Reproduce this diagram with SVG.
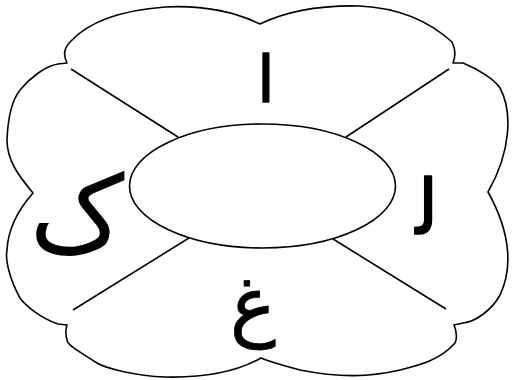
<svg xmlns="http://www.w3.org/2000/svg" width="513" height="380" viewBox="0 0 513 380">
<style>
.o{fill:#fff;stroke:#000;stroke-width:1.6;stroke-linejoin:round}
.l{fill:none;stroke:#000;stroke-width:1.6}
.t{font-family:"DejaVu Sans",sans-serif;fill:#000;text-anchor:middle;stroke:#000;stroke-width:1.4;stroke-linejoin:round}
</style>
<rect width="513" height="380" fill="#fff"/>
<g id="flower">
<path class="o" d="M 67,63 C 63,55 64,48 70,42 C 90,20 125,10 165,7 C 205,5 235,12 260,24 C 285,12 320,5 360,6 C 400,8 430,22 452,42 C 456,50 455,58 453,63 L 463,63 C 480,70 495,80 500,88 C 512,110 512,150 488,192 C 512,235 512,270 500,295 C 492,310 475,322 463,323 L 454,325 C 457,332 457,340 455,343 C 440,360 420,365 400,370 C 370,377 340,378 300,370 C 285,366 270,362 261,358 C 240,370 210,378 165,377 C 135,376 105,368 97,363 C 80,352 67,345 67,340 C 65,333 66,328 67,325 L 58,324 C 40,318 25,305 20,298 C 10,280 5,260 7,250 C 8,230 18,210 33,193 C 18,175 7,160 7,140 C 8,115 12,100 20,90 C 30,78 45,66 58,64 Z"/>
</g>
<g id="connectors">
<line class="l" x1="71" y1="69" x2="178" y2="137"/>
<line class="l" x1="449" y1="69" x2="346" y2="137"/>
<line class="l" x1="73" y1="310" x2="189" y2="238"/>
<line class="l" x1="333" y1="239" x2="446" y2="309"/>
</g>
<g id="center">
<ellipse class="o" cx="262.5" cy="186" rx="133" ry="62"/>
</g>
<g id="alif"><text class="t" x="266" y="102" font-size="64">ا</text></g>
<g id="lam"><text class="t" x="427" y="234" font-size="76">ﻟ</text></g>
<g id="kaf"><text class="t" x="77" y="251" font-size="106" style="stroke-width:0">ک</text></g>
<g id="ghayn"><text class="t" x="253" y="331" font-size="77" style="stroke-width:0.8">غ</text></g>
</svg>
